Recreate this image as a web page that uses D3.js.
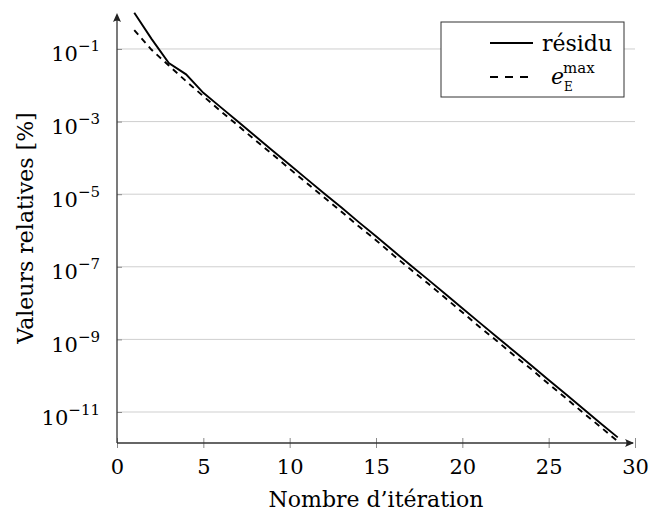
<!DOCTYPE html>
<html>
<head>
<meta charset="utf-8">
<script src="https://cdn.jsdelivr.net/npm/d3@7"></script>
<style>
  body { margin: 0; background: #fff; }
  text { font-family: "DejaVu Serif", serif; fill: #000; }
</style>
</head>
<body>
<svg id="chart"></svg>
<script>
// iterations and series values
const iterations = [1, 2, 3, 4, 5, 6, 7, 8, 9, 10, 11, 12, 13, 14, 15, 16, 17, 18, 19, 20, 21, 22, 23, 24, 25, 26, 27, 28, 29];
const residu = [1.0, 1.9e-1, 4.1e-2, 2.0e-2, 6.2e-3, 2.5e-3, 1.0e-3, 4.0e-4, 1.6e-4, 6.5e-5, 2.6e-5, 1.05e-5, 4.3e-6, 1.7e-6, 6.9e-7, 2.75e-7, 1.1e-7, 4.5e-8, 1.8e-8, 7.2e-9, 2.9e-9, 1.17e-9, 4.7e-10, 1.9e-10, 7.6e-11, 3.1e-11, 1.23e-11, 4.9e-12, 2.0e-12];
const eMax = [3.3e-1, 9.5e-2, 3.5e-2, 1.3e-2, 5.0e-3, 1.95e-3, 7.8e-4, 3.1e-4, 1.26e-4, 5.0e-5, 2.0e-5, 8.1e-6, 3.3e-6, 1.3e-6, 5.4e-7, 2.1e-7, 8.5e-8, 3.5e-8, 1.4e-8, 5.6e-9, 2.2e-9, 9.1e-10, 3.6e-10, 1.5e-10, 5.9e-11, 2.4e-11, 9.5e-12, 3.9e-12, 1.55e-12];
const xTicks = [0, 5, 10, 15, 20, 25, 30];
const yTickExp = [-1, -3, -5, -7, -9, -11];

const width = 649, height = 514;
const pLeft = 117, pRight = 635, pTop = 13, pBottom = 443;

const svg = d3.select("#chart").attr("width", width).attr("height", height);

const x = d3.scaleLinear().domain([0, 30]).range([pLeft, pRight]);
const y = d3.scaleLog().domain([1.4e-12, 0.98]).range([pBottom, pTop]);

// grid
svg.append("g")
  .selectAll("line")
  .data(yTickExp)
  .enter()
  .append("line")
  .attr("x1", pLeft)
  .attr("x2", pRight)
  .attr("y1", d => y(Math.pow(10, d)))
  .attr("y2", d => y(Math.pow(10, d)))
  .attr("stroke", "#cfcfcf")
  .attr("stroke-width", 1);

// x axis
const xAxis = svg.append("g")
  .attr("transform", `translate(0,${pBottom})`)
  .call(d3.axisBottom(x).tickValues(xTicks).tickSize(5).tickSizeOuter(0));
xAxis.select(".domain").remove();
xAxis.selectAll(".tick line").attr("y1", -5).attr("stroke", "#8a8a8a");
xAxis.selectAll(".tick text")
  .attr("y", 31)
  .attr("dy", null)
  .attr("fill", "#000")
  .style("font-size", "21px")
  .style("font-family", '"DejaVu Serif", serif');

// y axis
const yAxis = svg.append("g")
  .attr("transform", `translate(${pLeft},0)`)
  .call(d3.axisLeft(y).tickValues(yTickExp.map(d => Math.pow(10, d))).tickSize(5).tickSizeOuter(0));
yAxis.select(".domain").remove();
yAxis.selectAll(".tick line").attr("x2", 5).attr("stroke", "#8a8a8a");
yAxis.selectAll(".tick text").each(function (d) {
  const t = d3.select(this)
    .text(null)
    .attr("x", -17)
    .attr("dy", null)
    .attr("y", 12)
    .attr("fill", "#000")
    .style("font-family", '"DejaVu Serif", serif');
  t.append("tspan").style("font-size", "21px").text("10");
  t.append("tspan")
    .style("font-size", "15px")
    .attr("dy", -10)
    .text("\u2212" + Math.round(-Math.log10(d)));
});

// axis lines with arrows
svg.append("line")
  .attr("x1", pLeft).attr("x2", pRight - 2)
  .attr("y1", pBottom).attr("y2", pBottom)
  .attr("stroke", "#333").attr("stroke-width", 1.3);
svg.append("line")
  .attr("x1", pLeft).attr("x2", pLeft)
  .attr("y1", pBottom).attr("y2", pTop + 2)
  .attr("stroke", "#333").attr("stroke-width", 1.3);
svg.append("path")
  .attr("d", `M${pRight - 1},${pBottom} L${pRight - 10},${pBottom - 4} Q${pRight - 7},${pBottom} ${pRight - 10},${pBottom + 4} Z`)
  .attr("fill", "#222");
svg.append("path")
  .attr("d", `M${pLeft},${pTop} L${pLeft - 4},${pTop + 9} Q${pLeft},${pTop + 6} ${pLeft + 4},${pTop + 9} Z`)
  .attr("fill", "#222");

// series
const line = d3.line().x(d => x(d[0])).y(d => y(d[1]));

svg.append("path")
  .datum(iterations.map((it, i) => [it, eMax[i]]))
  .attr("d", line)
  .attr("fill", "none")
  .attr("stroke", "#000")
  .attr("stroke-width", 1.9)
  .attr("stroke-dasharray", "6,5");

svg.append("path")
  .datum(iterations.map((it, i) => [it, residu[i]]))
  .attr("d", line)
  .attr("fill", "none")
  .attr("stroke", "#000")
  .attr("stroke-width", 1.9);

// axis titles
svg.append("text")
  .attr("x", (pLeft + pRight) / 2)
  .attr("y", 507)
  .attr("text-anchor", "middle")
  .style("font-size", "22px")
  .text("Nombre d\u2019it\u00e9ration");

svg.append("text")
  .attr("transform", `translate(33,${(pTop + pBottom) / 2}) rotate(-90)`)
  .attr("text-anchor", "middle")
  .style("font-size", "22px")
  .text("Valeurs relatives [%]");

// legend
const lg = svg.append("g");
lg.append("rect")
  .attr("x", 441).attr("y", 22)
  .attr("width", 183).attr("height", 75)
  .attr("fill", "#fff")
  .attr("stroke", "#333")
  .attr("stroke-width", 1);
lg.append("line")
  .attr("x1", 490).attr("x2", 533).attr("y1", 43).attr("y2", 43)
  .attr("stroke", "#000").attr("stroke-width", 1.9);
lg.append("text")
  .attr("x", 542).attr("y", 51)
  .style("font-size", "22px")
  .text("r\u00e9sidu");
lg.append("line")
  .attr("x1", 490).attr("x2", 530).attr("y1", 77).attr("y2", 77)
  .attr("stroke", "#000").attr("stroke-width", 1.9)
  .attr("stroke-dasharray", "8,7");
lg.append("text")
  .attr("x", 551).attr("y", 84)
  .style("font-size", "22px")
  .style("font-style", "italic")
  .text("e");
lg.append("text")
  .attr("x", 563).attr("y", 73)
  .style("font-size", "15px")
  .text("max");
lg.append("text")
  .attr("x", 564).attr("y", 91)
  .style("font-size", "12px")
  .text("E");
</script>
</body>
</html>
